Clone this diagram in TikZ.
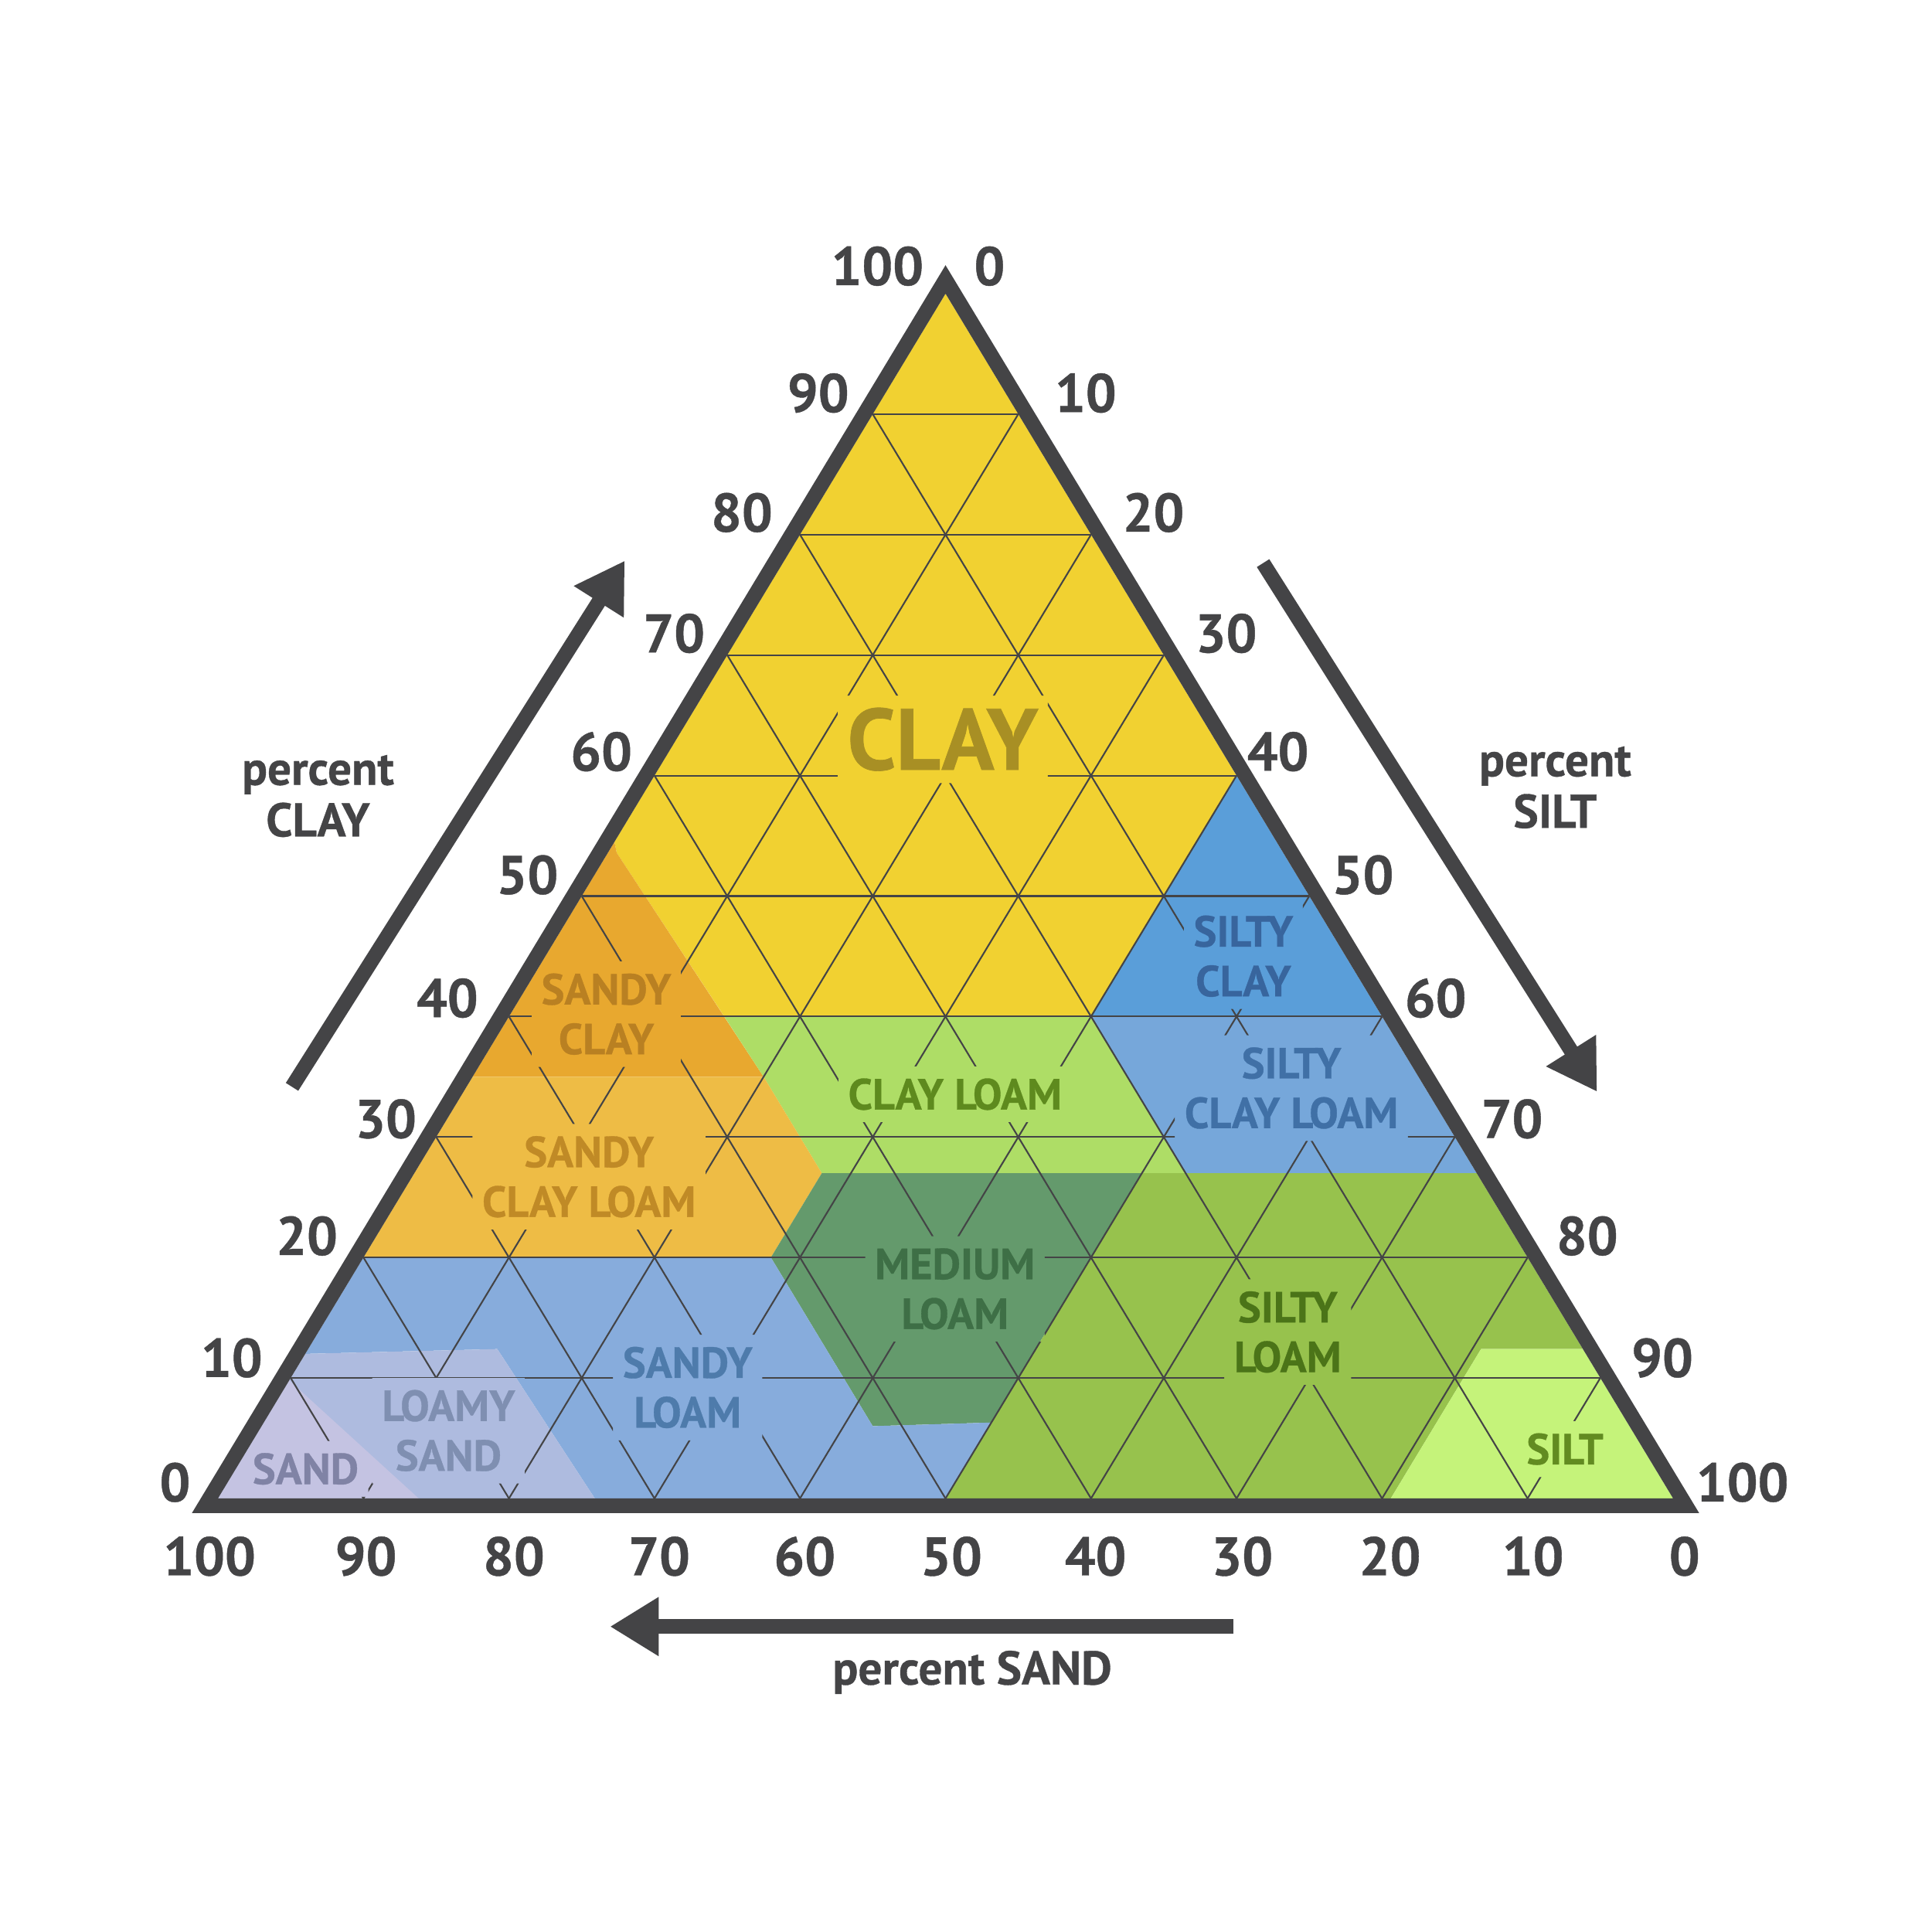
\documentclass[tikz,border=0pt]{standalone}
\usepackage{fontspec}
\setmainfont{PT Sans}[BoldFeatures={FakeBold=0.6}]
\usetikzlibrary{arrows.meta}
\definecolor{ink}{HTML}{444446}
\definecolor{cClay}{HTML}{F1D131}
\definecolor{cSandyClay}{HTML}{E8A82F}
\definecolor{cSandyClayLoam}{HTML}{EEBC45}
\definecolor{cClayLoam}{HTML}{AEDD66}
\definecolor{cMedLoam}{HTML}{649A6C}
\definecolor{cSiltyClay}{HTML}{5A9ED9}
\definecolor{cSiltyClayLoam}{HTML}{76A7DA}
\definecolor{cSiltyLoam}{HTML}{97C24D}
\definecolor{cSilt}{HTML}{C5F37A}
\definecolor{cSandyLoam}{HTML}{87ACDC}
\definecolor{cLoamySand}{HTML}{AEBBDF}
\definecolor{cSand}{HTML}{C4C3E2}
\definecolor{tClay}{HTML}{A88F24}
\definecolor{tSandyClay}{HTML}{B98022}
\definecolor{tSandyClayLoam}{HTML}{C08A26}
\definecolor{tClayLoam}{HTML}{5E8A1E}
\definecolor{tMedLoam}{HTML}{3E6F46}
\definecolor{tSiltyClay}{HTML}{38659D}
\definecolor{tSiltyClayLoam}{HTML}{4070A6}
\definecolor{tSiltyLoam}{HTML}{4B7418}
\definecolor{tSilt}{HTML}{628B21}
\definecolor{tSandyLoam}{HTML}{4E7BAB}
\definecolor{tLoamySand}{HTML}{7F8FB1}
\definecolor{tSand}{HTML}{8083A5}
\tikzset{
  ternary/.style={shift={(2.82cm,5.61cm)}, x={(0.1883cm,0cm)}, y={(0.09415cm,0.1559cm)}},
  shownpx/.style={shift={(0cm,25cm)}, x=0.015944cm, y=-0.015944cm},
  gridline/.style={draw=ink, line width=0.6pt},
  region/.style={inner xsep=0.12cm, inner ysep=0.15cm, align=center, font=\fontsize{16}{18.3}\selectfont\bfseries},
  ticklbl/.style={font=\fontsize{20}{24}\selectfont\bfseries, text=ink, inner sep=0pt},
  axistitle/.style={font=\fontsize{17.4}{19}\selectfont\bfseries, text=ink, align=center, inner sep=0pt},
  bigarrow/.style={draw=ink, line width=0.19cm, -{Triangle[length=0.63cm,width=0.72cm]}},
}
\begin{document}
\begin{tikzpicture}
\useasboundingbox (0,0) rectangle (25,25);
\fill[white] (0,0) rectangle (25,25);
% soil regions
\begin{scope}[ternary]
 \fill[cClay] (0,54.5) -- (0,100) -- (40,60) -- (40,40) -- (14.8,40) -- (0.6,53.6) -- cycle;
 \fill[cSandyClay] (0,54.5) -- (0.6,53.6) -- (20,35) -- (0,35) -- cycle;
 \fill[cSiltyClay] (40,40) -- (40,60) -- (60,40) -- cycle;
 \fill[cSiltyClayLoam] (40,40) -- (60,40) -- (73,27) -- (53,27) -- cycle;
 \fill[cClayLoam] (14.8,40) -- (40,40) -- (53,27) -- (28,27) -- (20,35) -- cycle;
 \fill[cSandyClayLoam] (0,35) -- (20,35) -- (28,27) -- (28,20) -- (0,20) -- cycle;
 \fill[cMedLoam] (28,27) -- (50,27) -- (50,6.3) -- (42,6) -- (28,20) -- cycle;
 \fill[cSiltyLoam] (50,0) -- (80.6,0) -- (80.6,12.4) -- (87.6,12.4) -- (73,27) -- (50,27) -- cycle;
 \fill[cSilt] (80.6,0) -- (100,0) -- (87.6,12.4) -- (80.6,12.4) -- cycle;
 \fill[cSandyLoam] (0,20) -- (28,20) -- (42,6) -- (50,6.3) -- (50,0) -- (25.9,0) -- (13,12.4) -- (0,12) -- cycle;
 \fill[cLoamySand] (0,12) -- (13,12.4) -- (25.9,0) -- (0,0) -- cycle;
 \fill[cSand] (0,0) -- (13.8,0) -- (0,9.8) -- cycle;
\end{scope}
% region labels
\begin{scope}[shownpx]
 \node[region, text=tClay, font=\fontsize{32}{36}\selectfont\bfseries] (lClay) at (765,600) {CLAY};
 \node[region, text=tSandyClay] (lSandyClay) at (492,823) {SANDY\\CLAY};
 \node[region, text=tSandyClayLoam] (lSandyClayLoam) at (478,955) {SANDY\\CLAY LOAM};
 \node[region, text=tClayLoam] (lClayLoam) at (775,888) {CLAY LOAM};
 \node[region, text=tMedLoam] (lMedLoam) at (775,1046) {MEDIUM\\LOAM};
 \node[region, text=tSiltyClay] (lSiltyClay) at (1009,776) {SILTY\\CLAY};
 \node[region, text=tSiltyClayLoam] (lSiltyClayLoam) at (1048,883) {SILTY\\CLAY LOAM};
 \node[region, text=tSiltyLoam] (lSiltyLoam) at (1045,1081) {SILTY\\LOAM};
 \node[region, text=tSilt] (lSilt) at (1270,1176) {SILT};
 \node[region, text=tSandyLoam] (lSandyLoam) at (558,1126) {SANDY\\LOAM};
 \node[region, text=tLoamySand] (lLoamySand) at (364,1161) {LOAMY\\SAND};
 \node[region, text=tSand] (lSand) at (248,1192) {SAND};
\end{scope}
% grid with gaps around labels
\begin{scope}[even odd rule]
 \clip (0,0) rectangle (25,25)
  (lClay.south west) rectangle (lClay.north east)
  (lSandyClay.south west) rectangle (lSandyClay.north east)
  (lSandyClayLoam.south west) rectangle (lSandyClayLoam.north east)
  (lClayLoam.south west) rectangle (lClayLoam.north east)
  (lMedLoam.south west) rectangle (lMedLoam.north east)
  (lSiltyClay.south west) rectangle (lSiltyClay.north east)
  (lSiltyClayLoam.south west) rectangle (lSiltyClayLoam.north east)
  (lSiltyLoam.south west) rectangle (lSiltyLoam.north east)
  (lSilt.south west) rectangle (lSilt.north east)
  (lSandyLoam.south west) rectangle (lSandyLoam.north east)
  (lLoamySand.south west) rectangle (lLoamySand.north east)
  (lSand.south west) rectangle (lSand.north east);
 \begin{scope}[ternary]
  \foreach \k in {10,20,...,90} {
   \draw[gridline] (0,\k) -- ({100-\k},\k);
   \draw[gridline] (\k,0) -- (\k,{100-\k});
   \draw[gridline] ({100-\k},0) -- (0,{100-\k});
  }
 \end{scope}
\end{scope}
% triangle border
\fill[ink, even odd rule] (2.483,5.42) -- (21.987,5.42) -- (12.235,21.5675) -- cycle
  (2.82,5.61) -- (21.65,5.61) -- (12.235,21.20) -- cycle;
% ticks, titles, arrows
\begin{scope}[shownpx]
 \foreach \v/\px/\py in {0/142/1203,10/188/1102,20/249/1003,30/313/908,40/363/810,50/428/710,60/488/610,70/547/514,80/602/416,90/664/319,100/712/216}
  \node[ticklbl] (cl\v) at (\px,\py) {\v};
 \foreach \v/\px/\py in {0/803/216,10/881/319,20/936/416,30/995/514,40/1037/610,50/1106/710,60/1165/810,70/1227/908,80/1288/1003,90/1349/1102,100/1414/1203}
  \node[ticklbl] (sl\v) at (\px,\py) {\v};
 \foreach \v/\px in {100/170,90/297,80/417,70/535,60/653,50/772,40/889,30/1008,20/1128,10/1244,0/1367}
  \node[ticklbl] (sa\v) at (\px,1263) {\v};
 \node[axistitle] (tClay) at (258,646) {percent\\CLAY};
 \node[axistitle] (tSilt) at (1262,639) {percent\\SILT};
 \node[axistitle, anchor=base] (tSand) at (789,1367) {percent SAND};
 \coordinate (aL1) at (237,882);
 \coordinate (aL2) at (507,455);
 \coordinate (aR1) at (1025,457);
 \coordinate (aR2) at (1296,886);
 \coordinate (aB1) at (1001,1320);
 \coordinate (aB2) at (495,1320);
 \draw[bigarrow] (aL1) -- (aL2);
 \draw[bigarrow] (aR1) -- (aR2);
 \draw[bigarrow] (aB1) -- (aB2);
\end{scope}
\end{tikzpicture}
\end{document}
